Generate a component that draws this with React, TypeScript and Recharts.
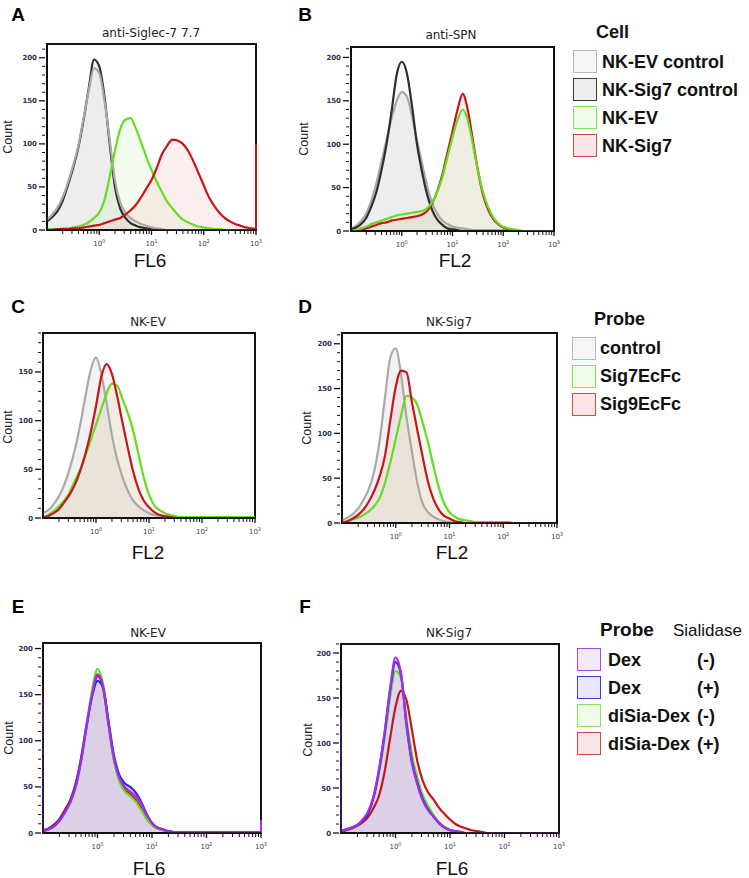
import React from 'react';
import { ComposedChart, Area, Line, XAxis, YAxis, ReferenceArea, ReferenceLine } from 'recharts';

// log10 of fluorescence, one bin every 0.1 decade
const X_LOG = [
  -1.0, -0.9, -0.8, -0.7, -0.6, -0.5, -0.4, -0.3, -0.2, -0.1,
  0.0, 0.1, 0.2, 0.3, 0.4, 0.5, 0.6, 0.7, 0.8, 0.9,
  1.0, 1.1, 1.2, 1.3, 1.4, 1.5, 1.6, 1.7, 1.8, 1.9,
  2.0, 2.1, 2.2, 2.3, 2.4, 2.5, 2.6, 2.7, 2.8, 2.9, 3.0,
];
const X_MAJOR = [0, 1, 2, 3];
const X_MINOR_MULT = [2, 3, 4, 5, 6, 7, 8, 9];

// A: anti-Siglec-7 7.7 (trailing empty bins omitted)
const A_EV_CTRL = [12, 18, 26, 38, 55, 75, 98, 130, 162, 188, 182, 150, 105, 58, 32, 20, 14, 10, 7, 5, 3, 2, 1];
const A_SIG7_CTRL = [10, 15, 22, 34, 52, 72, 96, 128, 165, 198, 190, 155, 100, 50, 25, 14, 8, 5, 3, 2, 1];
const A_EV = [1, 1, 1, 2, 2, 3, 4, 6, 9, 14, 20, 35, 62, 92, 117, 128, 130, 118, 102, 85, 70, 56, 44, 33, 25, 18, 12, 9, 6, 4, 3, 2, 1, 1];
const A_SIG7 = [0, 0, 1, 1, 1, 2, 2, 3, 4, 5, 6, 8, 10, 12, 14, 18, 23, 29, 38, 48, 58, 72, 88, 98, 105, 104, 100, 92, 80, 66, 52, 38, 28, 20, 14, 10, 7, 5, 3, 2, 1];
const A_SIG7_OVERFLOW = 100;

// B: anti-SPN
const B_EV_CTRL = [3, 6, 12, 20, 35, 55, 80, 105, 130, 150, 160, 155, 133, 105, 78, 52, 32, 20, 12, 8, 5, 4, 3, 2, 1, 1, 1, 1, 1, 1, 1];
const B_SIG7_CTRL = [2, 4, 8, 15, 28, 45, 70, 100, 138, 180, 195, 182, 145, 100, 68, 42, 24, 13, 7, 3, 2, 1];
const B_EV = [0, 1, 3, 5, 8, 10, 12, 14, 16, 18, 19, 20, 21, 22, 23, 26, 33, 45, 62, 85, 108, 128, 140, 128, 100, 70, 45, 28, 16, 9, 5, 3, 2, 1];
const B_SIG7 = [0, 0, 1, 3, 5, 7, 9, 10, 12, 13, 14, 15, 16, 17, 19, 23, 32, 46, 65, 90, 115, 140, 158, 140, 105, 70, 42, 25, 14, 8, 4, 2, 1];

// C: NK-EV probes
const C_CTRL = [5, 8, 14, 22, 34, 50, 70, 95, 125, 152, 165, 148, 118, 85, 60, 42, 28, 18, 12, 8, 5, 3, 2, 1];
const C_SIG7EC = [1, 3, 7, 12, 18, 26, 38, 50, 64, 80, 96, 112, 128, 138, 136, 122, 108, 90, 66, 42, 24, 13, 8, 5, 3, 2, 1, 1, 1, 1, 1, 1, 1, 1, 1, 1, 1, 1, 1, 1, 1];
const C_SIG9EC = [0, 2, 5, 9, 16, 24, 34, 48, 66, 88, 115, 145, 158, 148, 125, 98, 72, 48, 30, 18, 11, 6, 3, 2, 1];

// D: NK-Sig7 probes
const D_CTRL = [3, 6, 10, 16, 26, 38, 58, 92, 140, 185, 195, 165, 118, 80, 45, 22, 12, 7, 4, 2, 1];
const D_SIG7EC = [1, 2, 4, 6, 9, 13, 19, 28, 45, 68, 94, 120, 142, 140, 132, 112, 90, 64, 40, 22, 12, 7, 4, 3, 2, 1, 1, 1, 1, 1, 1, 1];
const D_SIG9EC = [0, 2, 5, 9, 15, 24, 36, 52, 75, 115, 152, 170, 168, 135, 104, 74, 46, 27, 15, 8, 5, 2, 1];

// E: NK-EV dextran probes
const E_DEX_NEG = [2, 4, 7, 13, 22, 33, 50, 78, 115, 150, 172, 160, 120, 82, 60, 50, 45, 40, 32, 20, 11, 6, 4, 2, 1, 1, 1, 1, 1, 1, 1, 1, 1, 1, 1, 1, 1, 1, 1, 1, 1];
const E_DEX_POS = [2, 4, 8, 14, 23, 34, 52, 80, 116, 148, 165, 158, 122, 85, 63, 54, 50, 44, 34, 21, 11, 6, 4, 2, 1];
const E_DISIA_NEG = [2, 4, 7, 13, 22, 33, 50, 80, 118, 155, 178, 162, 120, 80, 56, 45, 40, 34, 25, 15, 9, 5, 3, 2, 1];
const E_DISIA_POS = [3, 5, 9, 15, 25, 36, 54, 82, 118, 150, 170, 158, 118, 80, 58, 47, 42, 36, 27, 16, 9, 5, 3, 2, 1];
const E_UNDERFLOW_DEX = 150;
const E_UNDERFLOW_DISIA = 160;
const E_OVERFLOW_DEX = 14;

// F: NK-Sig7 dextran probes
const F_DEX_NEG = [2, 4, 6, 9, 15, 24, 42, 72, 112, 160, 195, 178, 120, 78, 54, 36, 25, 18, 11, 6, 3, 2, 1];
const F_DEX_POS = [2, 4, 6, 9, 14, 22, 40, 70, 110, 158, 190, 176, 122, 80, 56, 38, 26, 18, 11, 6, 3, 2, 1];
const F_DISIA_NEG = [2, 4, 6, 9, 15, 23, 40, 68, 105, 150, 180, 172, 128, 88, 62, 42, 30, 20, 12, 7, 4, 2, 1];
const F_DISIA_POS = [1, 3, 5, 8, 12, 18, 28, 42, 68, 105, 140, 158, 148, 115, 80, 58, 45, 37, 28, 21, 15, 10, 7, 5, 3, 2, 1];
const F_UNDERFLOW_DEX = 127;

const CELL_LEGEND = ['NK-EV control', 'NK-Sig7 control', 'NK-EV', 'NK-Sig7'];
const PROBE_LEGEND = ['control', 'Sig7EcFc', 'Sig9EcFc'];
const DEX_LEGEND = ['Dex', 'Dex', 'diSia-Dex', 'diSia-Dex'];
const SIALIDASE = ['(-)', '(+)', '(-)', '(+)'];

const STYLE = {
  lightGray: { stroke: '#a9a9a9', fill: '#cfcfcf', op: 0.28, box: '#b8b8b8', boxFill: '#f5f5f5' },
  dark: { stroke: '#2e2e2e', fill: '#cfcfcf', op: 0.15, box: '#3a3a3a', boxFill: '#eeeeee' },
  green: { stroke: '#66dd22', fill: '#c2eea8', op: 0.2, box: '#80e850', boxFill: '#f0fbea' },
  red: { stroke: '#c4161c', fill: '#f0bcbc', op: 0.25, box: '#d04a4a', boxFill: '#f8e6e6' },
  purple: { stroke: '#a42cf0', fill: '#cfb0ea', op: 0.3, box: '#b040ea', boxFill: '#f4e8fb' },
  blue: { stroke: '#2b2bd8', fill: '#b5b5ee', op: 0.25, box: '#3a3ae0', boxFill: '#e8e8fa' },
};
type StyleKey = keyof typeof STYLE;

interface Series { key: string; values: number[]; style: StyleKey }
interface Edge { x: number; value: number; style: StyleKey }
interface Panel {
  letter: string; title: string; xLabel: string;
  frame: { x: number; y: number; w: number; h: number };
  yMax: number; series: Series[]; edges?: Edge[];
  letterPos: [number, number]; titlePos: [number, number]; xLabelPos: [number, number]; countPos: [number, number];
}

const PANELS: Panel[] = [
  {
    letter: 'A', title: 'anti-Siglec-7 7.7', xLabel: 'FL6', frame: { x: 47, y: 44, w: 209, h: 186 }, yMax: 216,
    series: [
      { key: 'sig7ctrl', values: A_SIG7_CTRL, style: 'dark' },
      { key: 'evctrl', values: A_EV_CTRL, style: 'lightGray' },
      { key: 'ev', values: A_EV, style: 'green' },
      { key: 'sig7', values: A_SIG7, style: 'red' },
    ],
    edges: [{ x: 3, value: A_SIG7_OVERFLOW, style: 'red' }],
    letterPos: [18, 15], titlePos: [151, 33], xLabelPos: [150, 261], countPos: [8, 137],
  },
  {
    letter: 'B', title: 'anti-SPN', xLabel: 'FL2', frame: { x: 351, y: 47, w: 203, h: 184 }, yMax: 212,
    series: [
      { key: 'evctrl', values: B_EV_CTRL, style: 'lightGray' },
      { key: 'sig7ctrl', values: B_SIG7_CTRL, style: 'dark' },
      { key: 'sig7', values: B_SIG7, style: 'red' },
      { key: 'ev', values: B_EV, style: 'green' },
    ],
    letterPos: [305, 15], titlePos: [451, 35], xLabelPos: [455, 261], countPos: [304, 139],
  },
  {
    letter: 'C', title: 'NK-EV', xLabel: 'FL2', frame: { x: 43, y: 333, w: 212, h: 185 }, yMax: 190,
    series: [
      { key: 'ctrl', values: C_CTRL, style: 'lightGray' },
      { key: 'sig7ec', values: C_SIG7EC, style: 'green' },
      { key: 'sig9ec', values: C_SIG9EC, style: 'red' },
    ],
    letterPos: [18, 307], titlePos: [148, 322], xLabelPos: [148, 553], countPos: [8, 427],
  },
  {
    letter: 'D', title: 'NK-Sig7', xLabel: 'FL2', frame: { x: 342, y: 333, w: 215, h: 190 }, yMax: 212,
    series: [
      { key: 'ctrl', values: D_CTRL, style: 'lightGray' },
      { key: 'sig7ec', values: D_SIG7EC, style: 'green' },
      { key: 'sig9ec', values: D_SIG9EC, style: 'red' },
    ],
    letterPos: [305, 307], titlePos: [449, 322], xLabelPos: [452, 553], countPos: [307, 428],
  },
  {
    letter: 'E', title: 'NK-EV', xLabel: 'FL6', frame: { x: 43, y: 643, w: 218, h: 190 }, yMax: 206,
    series: [
      { key: 'disiaPos', values: E_DISIA_POS, style: 'red' },
      { key: 'disiaNeg', values: E_DISIA_NEG, style: 'green' },
      { key: 'dexPos', values: E_DEX_POS, style: 'blue' },
      { key: 'dexNeg', values: E_DEX_NEG, style: 'purple' },
    ],
    edges: [
      { x: -1, value: E_UNDERFLOW_DISIA, style: 'red' },
      { x: -1, value: E_UNDERFLOW_DEX, style: 'purple' },
      { x: 3, value: E_OVERFLOW_DEX, style: 'purple' },
    ],
    letterPos: [18, 607], titlePos: [148, 633], xLabelPos: [149, 869], countPos: [9, 738],
  },
  {
    letter: 'F', title: 'NK-Sig7', xLabel: 'FL6', frame: { x: 341, y: 644, w: 218, h: 189 }, yMax: 210,
    series: [
      { key: 'disiaPos', values: F_DISIA_POS, style: 'red' },
      { key: 'disiaNeg', values: F_DISIA_NEG, style: 'green' },
      { key: 'dexPos', values: F_DEX_POS, style: 'blue' },
      { key: 'dexNeg', values: F_DEX_NEG, style: 'purple' },
    ],
    edges: [{ x: -1, value: F_UNDERFLOW_DEX, style: 'purple' }],
    letterPos: [305, 607], titlePos: [449, 633], xLabelPos: [452, 869], countPos: [308, 740],
  },
];

const X_TICKS = [
  ...[-1, 0, 1, 2].flatMap((d) => X_MINOR_MULT.map((m) => d + Math.log10(m))),
  ...X_MAJOR,
].sort((a, b) => a - b);

const XTick = (props: any) => {
  const { x, y, payload } = props;
  const major = X_MAJOR.includes(payload.value);
  const len = major ? 3 : 2;
  return (
    <g>
      <line x1={x} x2={x} y1={y - len} y2={y + len} stroke="#111" strokeWidth={major ? 1.3 : 1} />
      {major && (
        <text x={x} y={y + 14} textAnchor="middle" fontSize={7} fill="#3b3b55" fontFamily="DejaVu Sans, sans-serif">
          10<tspan dy={-3} fontSize={5}>{payload.value}</tspan>
        </text>
      )}
    </g>
  );
};

const YTick = (props: any) => {
  const { x, y, payload } = props;
  const major = payload.value % 50 === 0;
  return (
    <g>
      <line x1={x - (major ? 6 : 3)} x2={x} y1={y} y2={y} stroke="#111" strokeWidth={major ? 1.3 : 1} />
      {major && (
        <text x={x - 8} y={y + 2.5} textAnchor="end" fontSize={7} fontWeight="bold" fill="#2d2f55" fontFamily="DejaVu Sans, sans-serif">
          {payload.value}
        </text>
      )}
    </g>
  );
};

const Y_AXIS_W = 30;
const X_AXIS_H = 24;
const TOP_PAD = 4;
const RIGHT_PAD = 12;

const HistPanel = ({ p }: { p: Panel }) => {
  const rows = X_LOG.map((x, i) => {
    const row: Record<string, number> = { x };
    p.series.forEach((s) => { row[s.key] = s.values[i] ?? 0; });
    return row;
  });
  const yTicks: number[] = [];
  for (let v = 0; v <= p.yMax; v += 10) yTicks.push(v);

  return (
    <div style={{ position: 'absolute', left: p.frame.x - Y_AXIS_W, top: p.frame.y - TOP_PAD }}>
      <ComposedChart
        width={p.frame.w + Y_AXIS_W + RIGHT_PAD}
        height={p.frame.h + TOP_PAD + X_AXIS_H}
        data={rows}
        margin={{ top: TOP_PAD, right: RIGHT_PAD, left: 0, bottom: 0 }}
      >
        <XAxis
          dataKey="x" type="number" domain={[-1, 3]} allowDataOverflow
          ticks={X_TICKS} interval={0} tick={<XTick />} tickLine={false} tickSize={0}
          axisLine={{ stroke: '#111', strokeWidth: 1.5 }} height={X_AXIS_H}
        />
        <YAxis
          type="number" domain={[0, p.yMax]} allowDataOverflow
          ticks={yTicks} interval={0} tick={<YTick />} tickLine={false} tickSize={0}
          axisLine={{ stroke: '#111', strokeWidth: 1.5 }} width={Y_AXIS_W}
        />
        {p.series.map((s) => (
          <Area
            key={`a-${s.key}`} type="monotone" dataKey={s.key} stroke="none"
            fill={STYLE[s.style].fill} fillOpacity={STYLE[s.style].op}
            isAnimationActive={false} dot={false} activeDot={false}
          />
        ))}
        {p.series.map((s) => (
          <Line
            key={`l-${s.key}`} type="monotone" dataKey={s.key} stroke={STYLE[s.style].stroke}
            strokeWidth={2.2} isAnimationActive={false} dot={false} activeDot={false}
          />
        ))}
        <ReferenceArea x1={-1} x2={3} y1={0} y2={p.yMax} fill="none" stroke="#111" strokeWidth={2} ifOverflow="visible" />
        {(p.edges || []).map((e, i) => (
          <ReferenceLine
            key={`e-${i}`} segment={[{ x: e.x, y: 0 }, { x: e.x, y: e.value }]}
            stroke={STYLE[e.style].stroke} strokeWidth={2} ifOverflow="visible"
          />
        ))}
      </ComposedChart>
    </div>
  );
};

const FONT = '"Liberation Sans", Arial, Helvetica, sans-serif';

const centered = (x: number, y: number, extra: React.CSSProperties = {}): React.CSSProperties => ({
  position: 'absolute', left: x, top: y, transform: 'translate(-50%, -50%)', whiteSpace: 'nowrap', ...extra,
});

const Swatch = ({ x, y, s }: { x: number; y: number; s: StyleKey }) => (
  <div
    style={{
      position: 'absolute', left: x, top: y, width: 22, height: 21,
      border: `1.5px solid ${STYLE[s].box}`, background: STYLE[s].boxFill,
    }}
  />
);

const legendText: React.CSSProperties = { position: 'absolute', fontFamily: FONT, fontWeight: 'bold', fontSize: 18, color: '#111', whiteSpace: 'nowrap', lineHeight: '20px' };

const CELL_STYLES: StyleKey[] = ['lightGray', 'dark', 'green', 'red'];
const PROBE_STYLES: StyleKey[] = ['lightGray', 'green', 'red'];
const DEX_STYLES: StyleKey[] = ['purple', 'blue', 'green', 'red'];

export default function App() {
  return (
    <div style={{ position: 'absolute', left: 0, top: 0, width: 749, height: 878, background: '#fff', overflow: 'hidden' }}>
      {PANELS.map((p) => (
        <React.Fragment key={p.letter}>
          <HistPanel p={p} />
          <div style={centered(p.letterPos[0], p.letterPos[1], { fontFamily: FONT, fontWeight: 'bold', fontSize: 19, color: '#000' })}>{p.letter}</div>
          <div style={centered(p.titlePos[0], p.titlePos[1], { fontFamily: '"DejaVu Sans", sans-serif', fontSize: 12, color: '#222' })}>{p.title}</div>
          <div style={centered(p.xLabelPos[0], p.xLabelPos[1], { fontFamily: FONT, fontSize: 19, color: '#111' })}>{p.xLabel}</div>
          <div style={centered(p.countPos[0], p.countPos[1], { fontFamily: FONT, fontSize: 12.5, color: '#222', transform: 'translate(-50%, -50%) rotate(-90deg)' })}>Count</div>
        </React.Fragment>
      ))}

      {/* Cell legend */}
      <div style={{ ...legendText, left: 596, top: 22 }}>Cell</div>
      {CELL_LEGEND.map((t, i) => (
        <React.Fragment key={t}>
          <Swatch x={573} y={50 + i * 28} s={CELL_STYLES[i]} />
          <div style={{ ...legendText, left: 602, top: 52 + i * 28 }}>{t}</div>
        </React.Fragment>
      ))}

      {/* Probe legend */}
      <div style={{ ...legendText, left: 594, top: 309 }}>Probe</div>
      {PROBE_LEGEND.map((t, i) => (
        <React.Fragment key={t}>
          <Swatch x={572} y={337 + i * 28} s={PROBE_STYLES[i]} />
          <div style={{ ...legendText, left: 600, top: 338 + i * 28 }}>{t}</div>
        </React.Fragment>
      ))}

      {/* Dextran legend */}
      <div style={{ ...legendText, left: 600, top: 620, fontSize: 19 }}>Probe</div>
      <div style={{ ...legendText, left: 673, top: 621, fontWeight: 'normal', fontSize: 17 }}>Sialidase</div>
      {DEX_LEGEND.map((t, i) => (
        <React.Fragment key={i}>
          <Swatch x={577} y={648 + i * 28} s={DEX_STYLES[i]} />
          <div style={{ ...legendText, left: 608, top: 650 + i * 28 }}>{t}</div>
          <div style={{ ...legendText, left: 697, top: 650 + i * 28 }}>{SIALIDASE[i]}</div>
        </React.Fragment>
      ))}
    </div>
  );
}
